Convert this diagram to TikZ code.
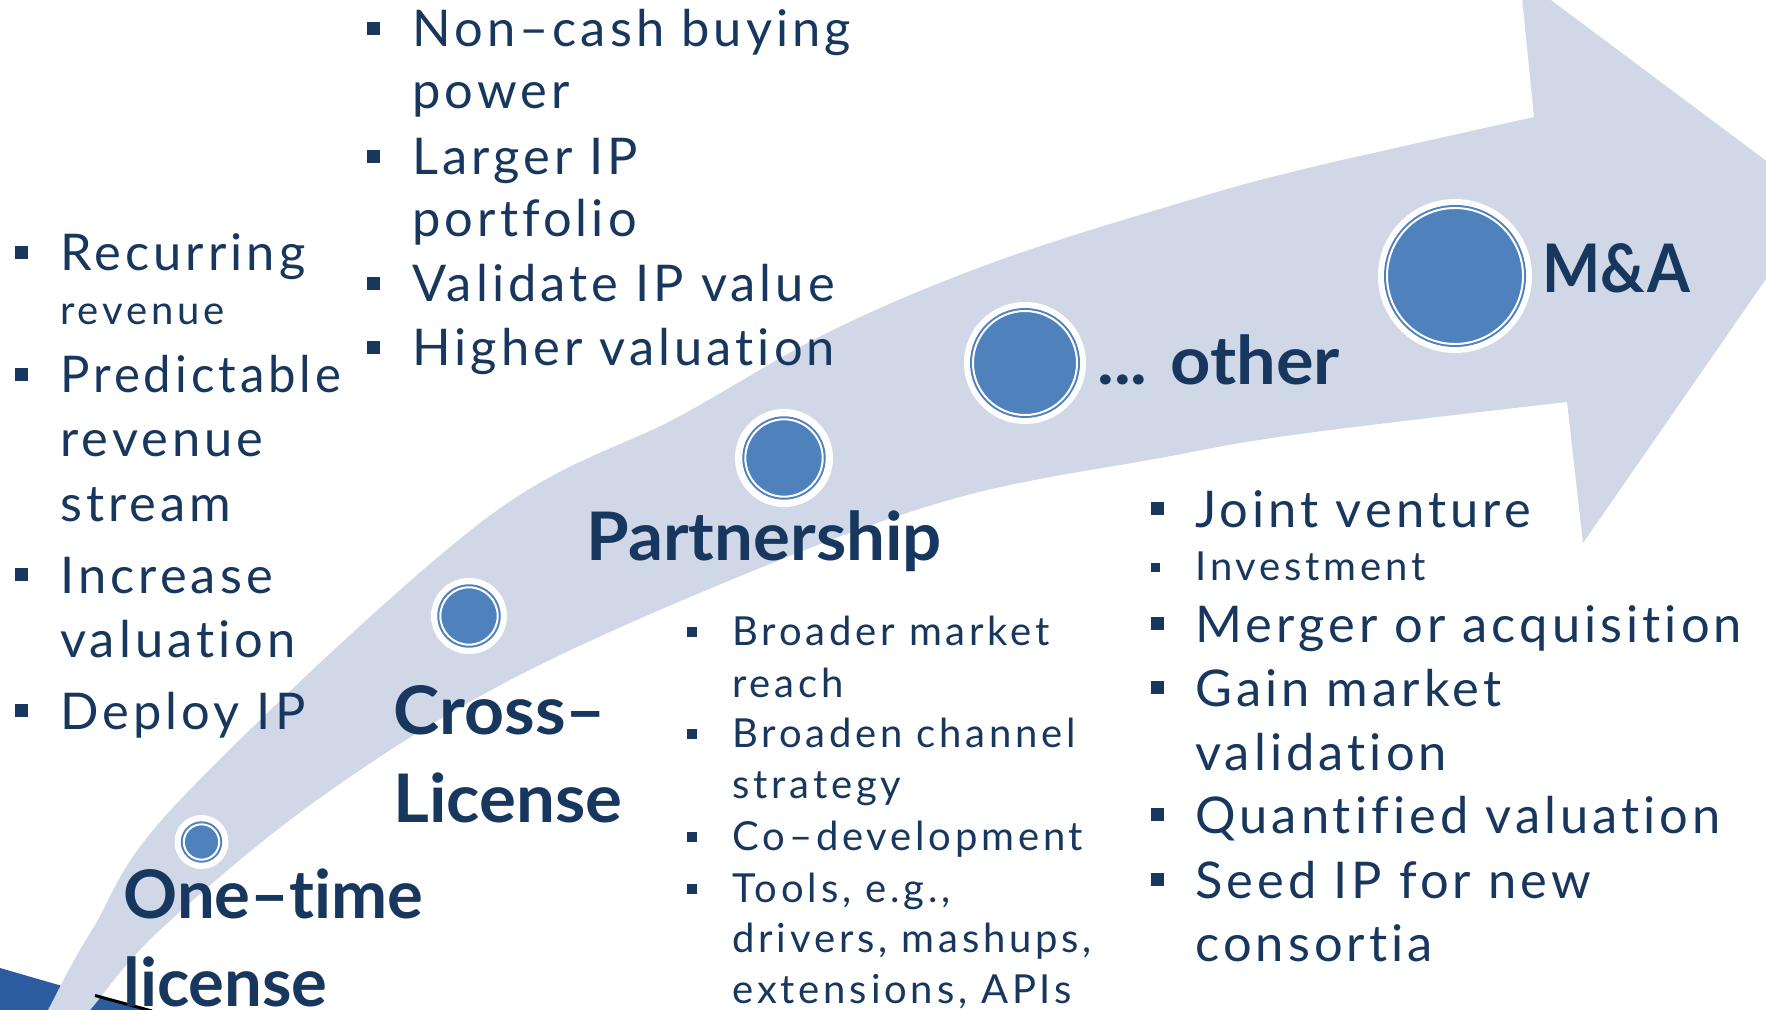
\documentclass[tikz,border=0pt]{standalone}
\usepackage{fontspec}
\setmainfont[Ligatures=NoCommon]{Lato}
\newfontfamily\bodyfont[LetterSpace=8,Ligatures=NoCommon]{Lato}
\newfontfamily\midfont[LetterSpace=9.5,Ligatures=NoCommon]{Lato}
\definecolor{navy}{HTML}{17375E}
\definecolor{cblue}{HTML}{4F81BD}
\definecolor{arrowc}{HTML}{D0D8E8}
\definecolor{fragblue}{HTML}{2A5C9F}
\tikzset{
  big/.style={anchor=base west, inner sep=0, text=navy, font=\bodyfont\fontsize{25.3}{30}\selectfont},
  mid/.style={anchor=base west, inner sep=0, text=navy, font=\midfont\fontsize{20}{24}\selectfont},
  head/.style={anchor=base west, inner sep=0, text=navy, font=\bfseries\fontsize{33.5}{40}\selectfont},
  bulbig/.style={rectangle, fill=navy, inner sep=0, minimum size=6.5pt},
  bulmid/.style={rectangle, fill=navy, inner sep=0, minimum size=5pt},
  bulsmall/.style={rectangle, fill=navy, inner sep=0, minimum size=4.5pt},
  halo/.style={circle, fill=white, inner sep=0, minimum size=#1},
}
\newcommand{\stagedot}[4]{% name, position, white radius, ring radius
  \node[halo=#3pt] (#1) at #2 {};
  \fill[cblue] (#1.center) circle[radius=#4];
  \draw[white, line width=1pt] (#1.center) circle[radius=#4-3];
}
\begin{document}
\begin{tikzpicture}[x=0.5pt,y=-0.5pt]
\useasboundingbox (0,0) rectangle (1766,1010);
\clip (0,0) rectangle (1766,1010);
\fill[white] (0,0) rectangle (1766,1010);
% fragment at bottom left
\fill[fragblue] (0,968) -- (152,1012) -- (152,1015) -- (0,1015) -- cycle;
% the arrow
\fill[arrowc] plot[smooth, tension=0.6] coordinates {(30,1045) (48,1010) (92,930) (180,800) (480,523) (680,416) (833,330) (1000,260) (1200,197) (1300,170) (1400,147) (1534,117)}
  -- (1520,-23) -- (1820,201) -- (1583,543) -- (1567,402)
  -- plot[smooth, tension=0.6] coordinates {(1567,402) (1300,434) (1160,458) (960,497) (760,568) (510,680) (317,800) (160,930) (90,1010) (59,1045)} -- cycle;
\coordinate (fa) at (95,995.5);
\coordinate (fb) at (152,1011);
\draw[black, line width=1.5pt] (fa) -- (fb);
% stage circles
\stagedot{c1}{(201.5,842)}{27}{20.7}
\stagedot{c2}{(469,616)}{38}{31.7}
\stagedot{c3}{(784,458)}{49}{41.7}
\stagedot{c4}{(1025,363)}{61}{55}
\stagedot{c5}{(1455,276)}{77}{71}
% headings
\node[head] (h1a) at (123,918) {One–time};
\node[head] (h1b) at (123,1006) {license};
\node[head] (h2a) at (393,734) {\scalebox{1.04}[1]{Cross–}};
\node[head] (h2b) at (393,822) {\scalebox{1.03}[1]{License}};
\node[head] (h3) at (586,560) {\scalebox{1.03}[1]{Partnership}};
\node[head] (h4) at (1097,385) {\scalebox{1.05}[1]{... other}};
\node[head] (h5) at (1542,293) {\scalebox{0.92}[1]{M\&A}};
% left list
\node[bulbig] (lb1) at (21.5,252.5) {};
\node[bulbig] (lb2) at (21.5,374.5) {};
\node[bulbig] (lb3) at (21.5,574.5) {};
\node[bulbig] (lb4) at (21.5,710.5) {};
\node[big] (l1) at (60,271) {Recurring};
\node[mid] (l2) at (60,325) {revenue};
\node[big] (l3) at (60,393) {\scalebox{0.97}[1]{Predictable}};
\node[big] (l4) at (60,457) {revenue};
\node[big] (l5) at (60,521) {stream};
\node[big] (l6) at (60,593) {Increase};
\node[big] (l7) at (60,657) {valuation};
\node[big] (l8) at (60,729) {Deploy IP};
% top list
\node[bulbig] (tb1) at (373.5,28.5) {};
\node[bulbig] (tb2) at (373.5,156.5) {};
\node[bulbig] (tb3) at (373.5,283.5) {};
\node[bulbig] (tb4) at (373.5,347.5) {};
\node[big] (t1) at (412,47) {Non–cash buying};
\node[big] (t2) at (412,109) {power};
\node[big] (t3) at (412,175) {Larger IP};
\node[big] (t4) at (412,237) {portfolio};
\node[big] (t5) at (412,302) {Validate IP value};
\node[big] (t6) at (412,366) {Higher valuation};
% partnership list
\node[bulmid] (mb1) at (692,632) {};
\node[bulmid] (mb2) at (692,734) {};
\node[bulmid] (mb3) at (692,837) {};
\node[bulmid] (mb4) at (692,889) {};
\node[mid] (m1) at (732,645) {Broader market};
\node[mid] (m2) at (732,697) {reach};
\node[mid] (m3) at (732,747) {Broaden channel};
\node[mid] (m4) at (732,798) {strategy};
\node[mid] (m5) at (732,850) {Co–development};
\node[mid] (m6) at (732,902) {Tools, e.g.,};
\node[mid] (m7) at (732,952) {drivers, mashups,};
\node[mid] (m8) at (732,1003) {extensions, APIs};
% right list
\node[bulbig] (rb1) at (1157,508.5) {};
\node[bulsmall] (rb2) at (1155,567) {};
\node[bulbig] (rb3) at (1157,623.5) {};
\node[bulbig] (rb4) at (1157,687.5) {};
\node[bulbig] (rb5) at (1157,814.5) {};
\node[bulbig] (rb6) at (1157,879.5) {};
\node[big] (r1) at (1195,527) {Joint venture};
\node[mid] (r2) at (1195,580) {Investment};
\node[big] (r3) at (1195,642) {Merger or acquisition};
\node[big] (r4) at (1195,706) {Gain market};
\node[big] (r5) at (1195,770) {validation};
\node[big] (r6) at (1195,833) {Quantified valuation};
\node[big] (r7) at (1195,898) {Seed IP for new};
\node[big] (r8) at (1195,961) {consortia};
\end{tikzpicture}
\end{document}
